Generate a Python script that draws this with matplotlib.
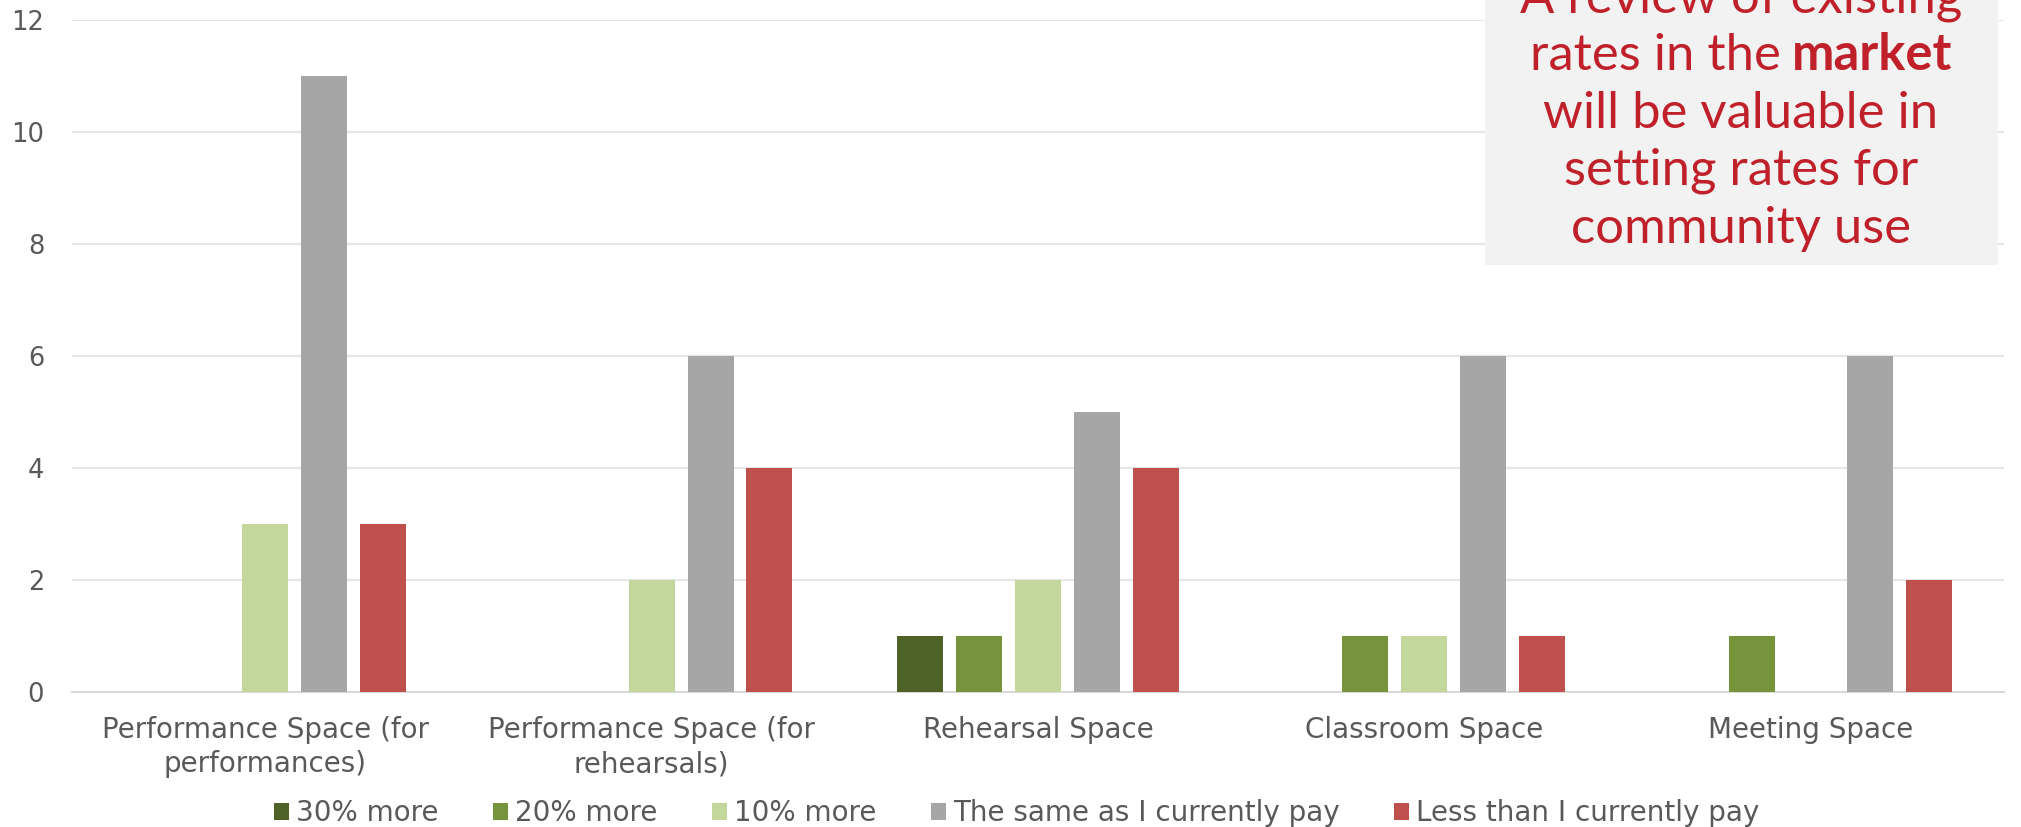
import numpy as np
import matplotlib
matplotlib.use('Agg')
import matplotlib.pyplot as plt
from matplotlib.patches import Rectangle

categories = ['Performance Space (for\nperformances)', 'Performance Space (for\nrehearsals)',
              'Rehearsal Space', 'Classroom Space', 'Meeting Space']
series_names = ['30% more', '20% more', '10% more', 'The same as I currently pay', 'Less than I currently pay']
more_30 = [0, 0, 1, 0, 0]
more_20 = [0, 0, 1, 1, 1]
more_10 = [3, 2, 2, 1, 0]
same = [11, 6, 5, 6, 6]
less = [3, 4, 4, 1, 2]
colors = ['#4F6228', '#77933C', '#C3D69B', '#A6A6A6', '#C0504D']
yticks = [0, 2, 4, 6, 8, 10, 12]

note_lines = ['A review of existing', None, 'will be valuable in', 'setting rates for', 'community use']

txt_col = '#595959'
red = '#C0202A'


def main():
    fig = plt.figure(figsize=(20.21, 8.27), dpi=100)
    ax = fig.add_axes([72/2021, 1-692/827, (2004-72)/2021, (692-20)/827])

    x = np.arange(len(categories))
    step = 0.1525
    width = 0.119
    for i, vals in enumerate([more_30, more_20, more_10, same, less]):
        ax.bar(x + (i-2)*step, vals, width, color=colors[i], label=series_names[i], zorder=3)

    ax.set_xlim(-0.5, 4.5)
    ax.set_ylim(0, 12)
    ax.set_yticks(yticks)
    ax.set_xticks(x)
    ax.set_xticklabels(categories, multialignment='center', linespacing=1.3)
    ax.tick_params(axis='both', length=0, labelsize=20, colors=txt_col)
    ax.tick_params(axis='y', pad=20, labelsize=18.5)
    ax.tick_params(axis='x', pad=17)
    ax.yaxis.grid(True, color='#E6E6E6', lw=1.5, zorder=0)
    for s in ['top', 'right', 'left']:
        ax.spines[s].set_visible(False)
    ax.spines['bottom'].set_color('#D9D9D9')
    ax.spines['bottom'].set_linewidth(1.5)

    fig.legend(loc='center', bbox_to_anchor=(0.503, 1-813/827), ncol=5, frameon=False,
               fontsize=20, handlelength=0.55, handleheight=0.55, handletextpad=0.25,
               columnspacing=1.95, labelcolor=txt_col, borderpad=0, borderaxespad=0)

    # note box top right
    fig.add_artist(Rectangle((1485/2021, 1-265/827), (1998-1485)/2021, 0.4,
                             transform=fig.transFigure, facecolor='#F2F2F2', edgecolor='none', zorder=5))
    cx = 1741/2021
    base = [12.5, 70, 128, 185, 243]
    fs = 36.5
    for ln, b in zip(note_lines, base):
        if ln is None:
            continue
        fig.text(cx, 1-b/827, ln, ha='center', va='baseline', fontsize=fs, color=red,
                 family='Lato', zorder=6)
    # line with bold word
    y2 = 1-base[1]/827
    t1 = fig.text(0, y2, 'rates in the', ha='left', va='baseline', fontsize=fs, color=red, family='Lato', zorder=6)
    t2 = fig.text(0, y2, 'market', ha='left', va='baseline', fontsize=fs, color=red, family='Lato',
                  weight='bold', zorder=6)
    fig.canvas.draw()
    r = fig.canvas.get_renderer()
    w1 = t1.get_window_extent(r).width
    w2 = t2.get_window_extent(r).width
    sp = fs*100/72*0.22
    total = w1 + sp + w2
    start = cx*2021 - total/2
    t1.set_x(start/2021)
    t2.set_x((start + w1 + sp)/2021)

    fig.savefig('out.png', dpi=100)


if __name__ == '__main__':
    main()
